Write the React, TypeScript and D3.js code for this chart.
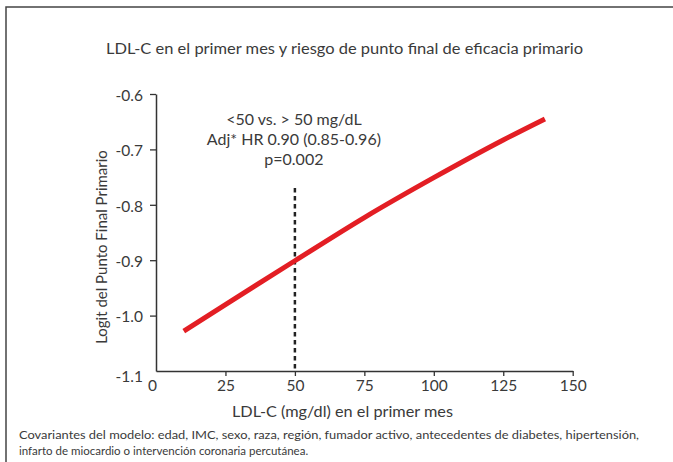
import React, { useEffect, useRef } from "react";
import * as d3 from "d3";

// LDL-C values (mg/dl) and logit
const ldlValues = [10, 25, 50, 75, 100, 125, 140];
const logitValues = [-1.028, -0.98, -0.901, -0.823, -0.751, -0.683, -0.645];

const xTicks = [0, 25, 50, 75, 100, 125, 150];
const yTicks = [-0.6, -0.7, -0.8, -0.9, -1.0, -1.1];

const cutoff = 50;
const annotationLines = ["<50 vs. > 50 mg/dL", "Adj* HR 0.90 (0.85-0.96)", "p=0.002"];

const title = "LDL-C en el primer mes y riesgo de punto final de eficacia primario";
const xLabel = "LDL-C (mg/dl) en el primer mes";
const yLabel = "Logit del Punto Final Primario";
const footnotes = [
  "Covariantes del modelo: edad, IMC, sexo, raza, región, fumador activo, antecedentes de diabetes, hipertensión,",
  "infarto de miocardio o intervención coronaria percutánea.",
];

const width = 673;
const height = 462;
const FONT = "Lato, 'Noto Sans', sans-serif";
const TEXT = "#3a3a3a";

export default function App() {
  const ref = useRef<SVGSVGElement>(null);

  useEffect(() => {
    const svg = d3.select(ref.current);
    svg.selectAll("*").remove();

    const x = d3.scaleLinear().domain([0, 150]).range([156, 572.7]);
    const y = d3.scaleLinear().domain([-1.1, -0.6]).range([371, 94]);

    // frame (top + left edge)
    svg.append("path")
      .attr("d", `M6,${height} L6,7 L${width},7`)
      .attr("fill", "none")
      .attr("stroke", "#444")
      .attr("stroke-width", 1.5);

    // title
    svg.append("text")
      .attr("x", 344.5)
      .attr("y", 54)
      .attr("text-anchor", "middle")
      .attr("font-family", FONT)
      .attr("font-size", 15.5)
      .attr("fill", TEXT)
      .attr("textLength", 477)
      .attr("lengthAdjust", "spacingAndGlyphs")
      .text(title);

    // y axis
    const yAxis = svg.append("g")
      .attr("transform", `translate(${x(0)},0)`)
      .call(
        d3.axisLeft(y)
          .tickValues(yTicks)
          .tickSize(6)
          .tickSizeOuter(0)
          .tickFormat(d3.format(".1f"))
      );
    yAxis.select(".domain").attr("stroke", "#333").attr("stroke-width", 1.5);
    yAxis.selectAll(".tick line").attr("stroke", "#333").attr("stroke-width", 1.3);
    yAxis.selectAll(".tick")
      .filter(d => d === -1.1)
      .select("line")
      .remove();
    yAxis.selectAll(".tick text")
      .attr("x", -13)
      .attr("dy", (d: any) => (d === -1.1 ? "0.65em" : "0.4em"))
      .attr("font-family", FONT)
      .attr("font-size", 15.5)
      .attr("fill", TEXT)
      .text((d: any) => d3.format(".1f")(d).replace("−", "-"));

    // x axis
    const xAxis = svg.append("g")
      .attr("transform", `translate(0,${y(-1.1)})`)
      .call(d3.axisBottom(x).tickValues(xTicks).tickSize(5).tickSizeOuter(0));
    xAxis.select(".domain").attr("stroke", "#333").attr("stroke-width", 1.5);
    xAxis.selectAll(".tick line").attr("stroke", "#333").attr("stroke-width", 1.3);
    xAxis.selectAll(".tick")
      .filter(d => d === 0)
      .select("line")
      .remove();
    xAxis.selectAll(".tick text")
      .attr("y", 9)
      .attr("dx", (d: any) => (d === 0 ? -4 : 0))
      .attr("font-family", FONT)
      .attr("font-size", 15.5)
      .attr("fill", TEXT);

    // axis titles
    svg.append("text")
      .attr("x", 342.5)
      .attr("y", 417)
      .attr("text-anchor", "middle")
      .attr("font-family", FONT)
      .attr("font-size", 16)
      .attr("fill", TEXT)
      .attr("textLength", 221)
      .attr("lengthAdjust", "spacingAndGlyphs")
      .text(xLabel);

    svg.append("text")
      .attr("transform", `translate(107,247) rotate(-90)`)
      .attr("text-anchor", "middle")
      .attr("font-family", FONT)
      .attr("font-size", 15)
      .attr("fill", TEXT)
      .text(yLabel);

    // dashed cutoff
    svg.append("line")
      .attr("x1", x(cutoff))
      .attr("x2", x(cutoff))
      .attr("y1", 188)
      .attr("y2", y(-1.1))
      .attr("stroke", "#222")
      .attr("stroke-width", 2.5)
      .attr("stroke-dasharray", "4.5,3.5");

    // annotation
    annotationLines.forEach((t, i) => {
      svg.append("text")
        .attr("x", x(cutoff) - 1)
        .attr("y", 125 + i * 20)
        .attr("text-anchor", "middle")
        .attr("font-family", FONT)
        .attr("font-size", 16)
        .attr("fill", TEXT)
        .text(t);
    });

    // curve
    const line = d3.line<number>()
      .x((_, i) => x(ldlValues[i]))
      .y(d => y(d))
      .curve(d3.curveMonotoneX);

    svg.append("path")
      .datum(logitValues)
      .attr("d", line)
      .attr("fill", "none")
      .attr("stroke", "#e31e24")
      .attr("stroke-width", 5);

    // footnote
    footnotes.forEach((t, i) => {
      svg.append("text")
        .attr("x", 19)
        .attr("y", 439 + i * 16)
        .attr("font-family", FONT)
        .attr("font-size", 11.5)
        .attr("fill", TEXT)
        .attr("textLength", i === 0 ? 620 : null)
        .attr("lengthAdjust", "spacingAndGlyphs")
        .text(t);
    });
  }, []);

  return (
    <svg
      ref={ref}
      width={width}
      height={height}
      style={{ position: "absolute", left: 0, top: 0, background: "#fff" }}
    />
  );
}
